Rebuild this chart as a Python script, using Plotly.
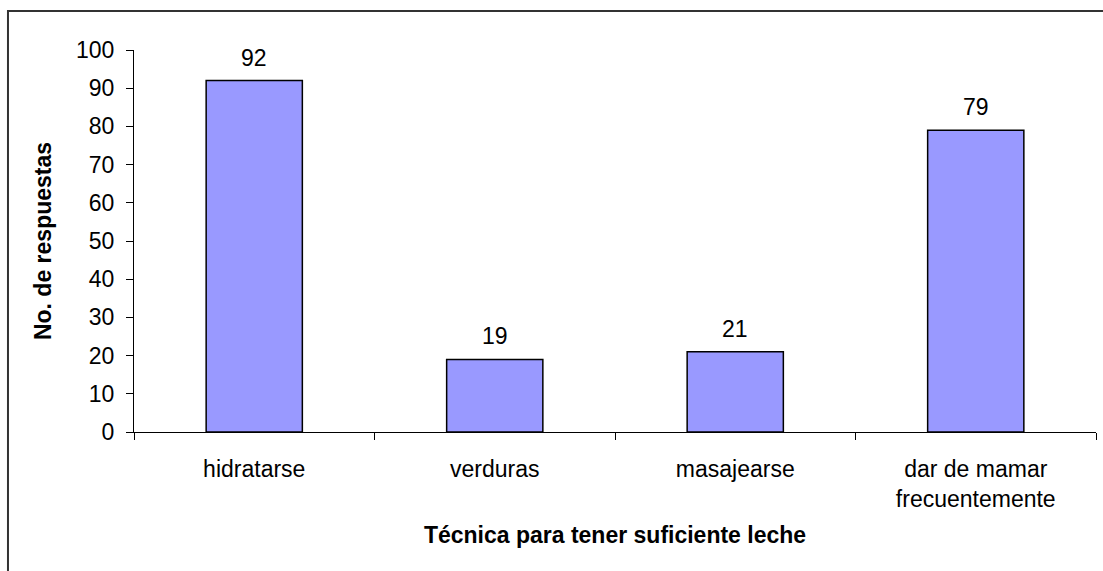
import plotly.graph_objects as go

categories = ["hidratarse", "verduras", "masajearse", "dar de mamar<br>frecuentemente"]
values = [92, 19, 21, 79]
y_ticks = list(range(0, 101, 10))

BAR_COLOR = "#9999FF"
FONT = "Liberation Sans, Arial, sans-serif"
FS = 23

fig = go.Figure()

fig.add_trace(go.Bar(
    x=categories, y=values, width=0.4,
    marker=dict(color=BAR_COLOR, line=dict(color="black", width=1.5)),
    showlegend=False, hoverinfo="skip"
))

# value labels above bars
for c, v in zip(categories, values):
    fig.add_annotation(x=c, y=v, text=str(v), showarrow=False,
                       yanchor="bottom", yshift=8,
                       font=dict(family=FONT, size=FS, color="black"))

fig.update_layout(
    width=1103, height=571,
    plot_bgcolor="white", paper_bgcolor="white",
    margin=dict(l=134, r=7, t=50, b=139),
    font=dict(family=FONT, size=FS, color="black"),
    bargap=0.6
)

fig.update_xaxes(
    type="category", showline=True, linecolor="black", linewidth=1,
    ticks="outside", tickson="boundaries", ticklen=7, tickcolor="black",
    ticklabelstandoff=16,
    tickfont=dict(family=FONT, size=FS, color="black"),
    title=dict(text="<b>Técnica para tener suficiente leche</b>", standoff=16,
               font=dict(family=FONT, size=FS, color="black")),
    showgrid=False, zeroline=False
)

fig.update_yaxes(
    range=[0, 100], tickvals=y_ticks, showline=True, linecolor="black", linewidth=1,
    ticks="outside", ticklen=7, tickcolor="black", ticklabelstandoff=7,
    tickfont=dict(family=FONT, size=FS, color="black"),
    title=dict(text="<b>No. de respuestas</b>", standoff=17,
               font=dict(family=FONT, size=FS, color="black")),
    showgrid=False, zeroline=False
)

# outer chart border (cut off at right and bottom in the original)
fig.add_shape(type="rect", xref="paper", yref="paper",
              x0=-0.131, x1=1.2, y0=-0.6, y1=1.102,
              line=dict(color="#333333", width=2), layer="below")

fig.write_html("out.html", config={"displayModeBar": False},
               post_script="document.body.style.margin='0';")
